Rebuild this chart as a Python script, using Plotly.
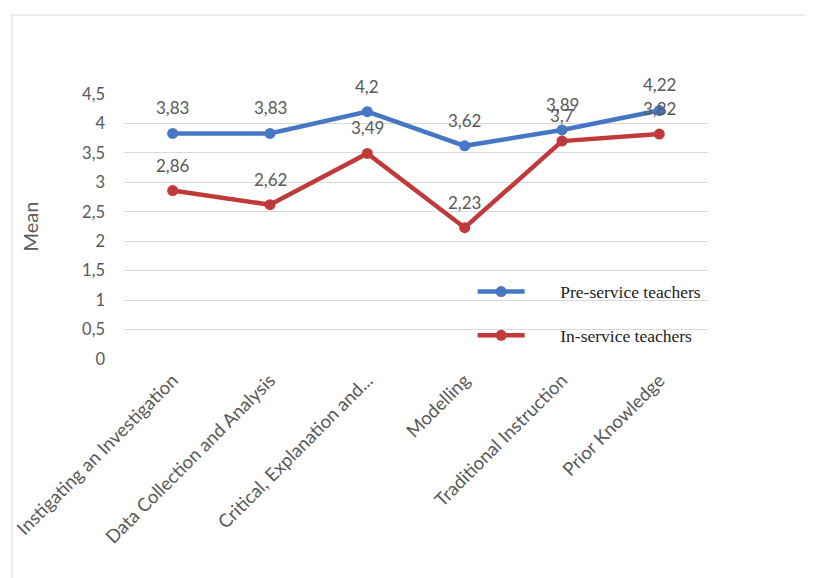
import plotly.graph_objects as go

categories = ["Instigating an Investigation", "Data Collection and Analysis",
              "Critical, Explanation and...", "Modelling",
              "Traditional Instruction", "Prior Knowledge"]
pre_service = [3.83, 3.83, 4.2, 3.62, 3.89, 4.22]
in_service = [2.86, 2.62, 3.49, 2.23, 3.7, 3.82]
y_ticks = [0, 0.5, 1, 1.5, 2, 2.5, 3, 3.5, 4, 4.5]
series_names = ["Pre-service teachers", "In-service teachers"]

gray = "#595959"
font_main = "Lato, Open Sans, sans-serif"
blue = "#4677C4"
red = "#C0393B"

def fmt(v):
    s = ("%g" % v).replace(".", ",")
    return s

pad = "\u00a0" * 7

fig = go.Figure()
for name, vals, col, grp in [(series_names[0], pre_service, blue, "a"),
                             (series_names[1], in_service, red, "b")]:
    fig.add_trace(go.Scatter(
        x=categories, y=vals, name=pad + name, mode="lines+markers",
        line=dict(color=col, width=4.5), marker=dict(size=11, color=col),
        legendgroup=grp, cliponaxis=False))

annotations = []
for vals in (pre_service, in_service):
    for c, v in zip(categories, vals):
        annotations.append(dict(x=c, y=v, xref="x", yref="y", text=fmt(v),
                                showarrow=False, yanchor="bottom", yshift=13,
                                font=dict(size=17, color=gray, family=font_main)))

fig.update_layout(
    width=813, height=578, autosize=False,
    margin=dict(l=116, r=113, t=86, b=227),
    paper_bgcolor="white", plot_bgcolor="white",
    font=dict(family=font_main, color=gray, size=16),
    annotations=annotations,
    legend=dict(x=0.597, y=0.322, xanchor="left", yanchor="top",
                bgcolor="rgba(255,255,255,0)",
                font=dict(family="Liberation Serif, Times New Roman, serif", size=17.5, color="#222222"),
                itemwidth=47, traceorder="grouped", tracegroupgap=18),
    xaxis=dict(range=[-0.5, 5.5], tickangle=-45, showgrid=False, showline=False,
               ticks="", tickfont=dict(size=18.5, color=gray), automargin=False,
               ticklabelstandoff=6),
    yaxis=dict(range=[0, 4.5], tickvals=y_ticks, ticktext=[fmt(v) for v in y_ticks],
               showgrid=True, gridcolor="#D9D9D9", gridwidth=1.2, zeroline=False,
               showline=False, ticks="", ticklabelstandoff=18, automargin=False,
               tickfont=dict(size=16.5, color=gray),
               title=dict(text="Mean", font=dict(size=20, color=gray), standoff=38)),
    shapes=[dict(type="rect", xref="paper", yref="paper", x0=-0.192, x1=1.3, y0=-0.9, y1=1.298,
                 line=dict(color="#E6E6E6", width=1.5), fillcolor="rgba(0,0,0,0)", layer="below")],
)

fig.write_html("out.html")
